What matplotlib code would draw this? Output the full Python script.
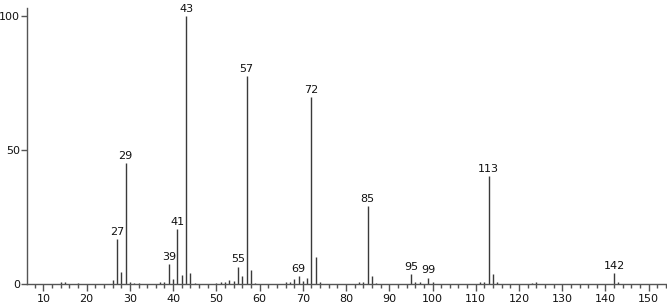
import matplotlib

matplotlib.use("Agg")
import matplotlib.pyplot as plt
from matplotlib.ticker import MultipleLocator

# m/z and relative abundance
MZ = [14, 15, 18, 26, 27, 28, 29, 30, 31, 32, 37, 38, 39, 40, 41, 42, 43, 44, 45,
      50, 51, 52, 53, 54, 55, 56, 57, 58, 59, 66, 67, 68, 69, 70, 71, 72, 73, 74,
      83, 84, 85, 86, 87, 95, 96, 97, 99, 100, 111, 112, 113, 114, 115, 123, 124,
      142, 143]
INTENSITY = [0.6, 0.8, 0.5, 1.5, 16.9, 4.5, 45.0, 0.9, 0.5, 0.4, 0.6, 0.8, 7.5, 1.7, 20.6, 3.5, 100.0, 4.0, 0.5,
             0.5, 0.7, 0.6, 1.6, 1.0, 6.5, 3.1, 77.6, 5.2, 0.5, 0.6, 0.7, 1.7, 3.0, 1.0, 2.4, 69.7, 10.2, 0.6,
             0.6, 0.8, 29.1, 3.0, 0.5, 3.7, 0.6, 0.6, 2.4, 0.8, 0.6, 0.9, 40.3, 3.7, 0.6, 0.5, 0.6,
             4.0, 0.8]
LABELED = [27, 29, 39, 41, 43, 55, 57, 69, 72, 85, 95, 99, 113, 142]

AXIS_COLOR = "#555555"
PEAK_COLOR = "#3a3a3a"
TEXT_COLOR = "#111111"

fig = plt.figure(figsize=(6.67, 3.06), dpi=100)
ax = fig.add_axes([0.0405, 0.072, 0.958, 0.902])

ax.vlines(MZ, 0, INTENSITY, color=PEAK_COLOR, linewidth=1.0)

for mz, inten in zip(MZ, INTENSITY):
    if mz in LABELED:
        ax.annotate(str(mz), (mz, inten), xytext=(0, 1.5), textcoords="offset points",
                    ha="center", va="bottom", fontsize=8, color=TEXT_COLOR)

ax.set_xlim(6.2, 154)
ax.set_ylim(0, 103)
ax.xaxis.set_major_locator(MultipleLocator(10))
ax.xaxis.set_minor_locator(MultipleLocator(2))
ax.set_yticks([0, 50, 100])

for side in ("top", "right"):
    ax.spines[side].set_visible(False)
for side in ("left", "bottom"):
    ax.spines[side].set_color(AXIS_COLOR)
    ax.spines[side].set_linewidth(1.0)

ax.tick_params(axis="x", which="major", length=5, width=1, color=AXIS_COLOR,
               labelsize=8, labelcolor=TEXT_COLOR, pad=2)
ax.tick_params(axis="x", which="minor", length=3, width=1, color=AXIS_COLOR)
ax.tick_params(axis="y", which="major", length=4, width=1, color=AXIS_COLOR,
               labelsize=8, labelcolor=TEXT_COLOR, pad=1)

fig.savefig("out.png", dpi=100, facecolor="white")
plt.close(fig)
